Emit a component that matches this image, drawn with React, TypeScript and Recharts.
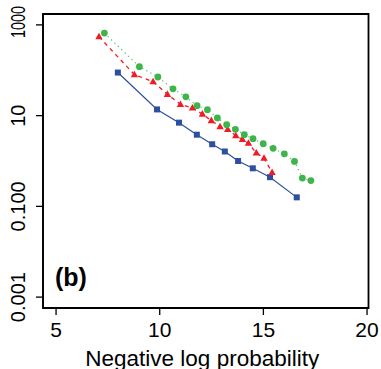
import React from 'react';
import { LineChart, Line, XAxis, YAxis, ReferenceArea } from 'recharts';

const blueX = [7.98, 9.87, 10.93, 11.79, 12.53, 13.14, 13.78, 14.49, 15.32, 16.61];
const blueY = [89, 13.7, 7.0, 3.8, 2.34, 1.62, 1.0, 0.69, 0.44, 0.158];

const redX = [7.07, 8.78, 9.68, 10.37, 11.0, 11.58, 12.06, 12.49, 12.91, 13.28, 13.67, 13.99, 14.28, 14.66, 15.03, 15.42];
const redY = [550, 80, 56, 29.5, 17.7, 14.8, 10.8, 7.8, 5.7, 5.0, 3.6, 3.0, 2.46, 1.51, 1.15, 0.56];

const greenX = [7.33, 9.02, 9.91, 10.64, 11.26, 11.8, 12.3, 12.78, 13.23, 13.65, 14.08, 14.5, 14.99, 15.47, 16.01, 16.5, 16.88, 17.29];
const greenY = [660, 120, 71, 39, 26, 16.6, 13.5, 8.9, 6.3, 5.0, 3.8, 3.1, 2.4, 1.9, 1.44, 0.98, 0.42, 0.37];

const xTicks = [5, 10, 15, 20];
const yTicks = [0.001, 0.1, 10, 1000];
const yTickLabels = ['0.001', '0.100', '10', '1000'];

const xDomain = [4.37, 20.07];
const yDomain = [Math.pow(10, -3.24), Math.pow(10, 3.24)];

const BLUE = '#2D4F9F';
const RED = '#EE1D25';
const GREEN = '#3DB54B';
const FONT = '"Liberation Sans", Arial, Helvetica, sans-serif';

const toData = (xs: number[], ys: number[]) => xs.map((x, i) => ({ x, y: ys[i] }));
const blueData = toData(blueX, blueY);
const redData = toData(redX, redY);
const greenData = toData(greenX, greenY);

const SquareDot = (p: any) => {
  if (p.cx == null || p.cy == null) return <g key={`s${p.index}`} />;
  return <rect key={`s${p.index}`} x={p.cx - 3} y={p.cy - 3} width={6} height={6} fill={BLUE} />;
};
const TriDot = (p: any) => {
  if (p.cx == null || p.cy == null) return <g key={`t${p.index}`} />;
  const { cx, cy } = p;
  return (
    <polygon
      key={`t${p.index}`}
      points={`${cx},${cy - 4} ${cx - 3.7},${cy + 2.6} ${cx + 3.7},${cy + 2.6}`}
      fill={RED}
    />
  );
};
const CircleDot = (p: any) => {
  if (p.cx == null || p.cy == null) return <g key={`c${p.index}`} />;
  return <circle key={`c${p.index}`} cx={p.cx} cy={p.cy} r={3.4} fill={GREEN} />;
};

const XTick = (props: any) => {
  const { x, y, payload } = props;
  return (
    <text x={x} y={y + 22} textAnchor="middle" fontSize={21} fontFamily={FONT} fill="#000">
      {String(payload.value)}
    </text>
  );
};

const YTick = (props: any) => {
  const { x, y, payload } = props;
  const idx = yTicks.findIndex((t) => Math.abs(Math.log10(t) - Math.log10(payload.value)) < 1e-6);
  const label = idx >= 0 ? yTickLabels[idx] : String(payload.value);
  const tx = x - 10.5;
  const compressed = label === '1000';
  const ty = compressed ? y - 3 : y;
  return (
    <text
      x={tx}
      y={ty}
      transform={`rotate(-90, ${tx}, ${ty})`}
      textAnchor="middle"
      fontSize={20}
      fontFamily={FONT}
      fill="#000"
      {...(compressed ? { textLength: 32, lengthAdjust: 'spacingAndGlyphs' } : {})}
    >
      {label}
    </text>
  );
};

const XLabel = (props: any) => {
  const vb = props.viewBox || { x: 43, y: 308, width: 325, height: 61 };
  return (
    <text
      x={vb.x + vb.width / 2 - 3.5}
      y={vb.y + vb.height - 3.5}
      textAnchor="middle"
      fontSize={22.5}
      fontFamily={FONT}
      fill="#000"
    >
      Negative log probability
    </text>
  );
};

export default function App() {
  return (
    <div style={{ position: 'absolute', left: 0, top: 0, width: 381, height: 369, background: '#fff' }}>
      <LineChart width={381} height={369} margin={{ top: 14, right: 12.5, left: 0, bottom: 0 }}>
        <XAxis
          type="number"
          dataKey="x"
          domain={xDomain}
          ticks={xTicks}
          allowDataOverflow
          height={61}
          tickSize={7}
          tickMargin={0}
          axisLine={{ stroke: '#000', strokeWidth: 1.5 }}
          tickLine={{ stroke: '#000', strokeWidth: 1.3 }}
          tick={<XTick />}
          label={<XLabel />}
        />
        <YAxis
          type="number"
          scale="log"
          domain={yDomain}
          ticks={yTicks}
          allowDataOverflow
          width={43}
          tickSize={7}
          tickMargin={0}
          axisLine={{ stroke: '#000', strokeWidth: 1.5 }}
          tickLine={{ stroke: '#000', strokeWidth: 1.3 }}
          tick={<YTick />}
        />
        <ReferenceArea
          x1={xDomain[0]}
          x2={xDomain[1]}
          y1={yDomain[0]}
          y2={yDomain[1]}
          fill="none"
          fillOpacity={0}
          stroke="#000"
          strokeWidth={1.8}
          ifOverflow="visible"
        />
        <Line
          data={blueData}
          dataKey="y"
          stroke={BLUE}
          strokeWidth={1.2}
          dot={SquareDot}
          activeDot={false}
          isAnimationActive={false}
        />
        <Line
          data={redData}
          dataKey="y"
          stroke={RED}
          strokeWidth={1.3}
          strokeDasharray="4 4"
          dot={TriDot}
          activeDot={false}
          isAnimationActive={false}
        />
        <Line
          data={greenData}
          dataKey="y"
          stroke={GREEN}
          strokeWidth={1.3}
          strokeDasharray="1.2 3.5"
          strokeOpacity={0.8}
          dot={CircleDot}
          activeDot={false}
          isAnimationActive={false}
        />
      </LineChart>
      <svg width={381} height={369} style={{ position: 'absolute', left: 0, top: 0, pointerEvents: 'none' }}>
        <text x={55} y={285.5} fontSize={25} fontWeight="bold" fontFamily={FONT} fill="#000">
          (b)
        </text>
      </svg>
    </div>
  );
}
